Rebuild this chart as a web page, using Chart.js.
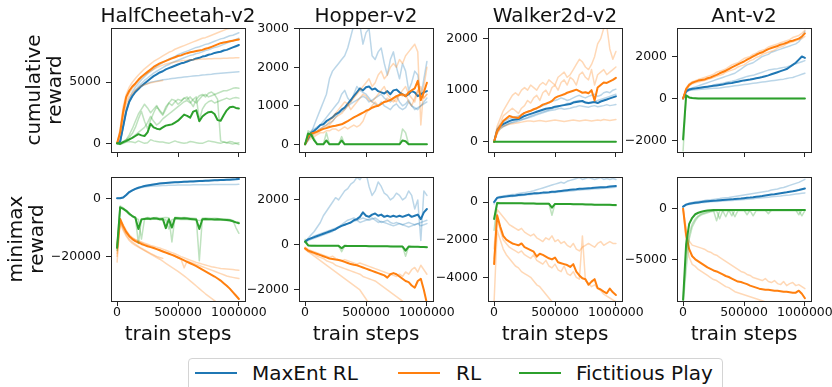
<!DOCTYPE html>
<html>
<head>
<meta charset="utf-8">
<title>MaxEnt RL vs RL vs Fictitious Play</title>
<script src="https://cdn.jsdelivr.net/npm/chart.js@4.4.1/dist/chart.umd.min.js"></script>
<style>
  html, body { margin: 0; padding: 0; background: #fff; }
  body { position: relative; width: 832px; height: 387px; overflow: hidden; font-family: 'DejaVu Sans', sans-serif; }
  canvas { position: absolute; }
  .ptitle { position: absolute; top: 5px; width: 234px; text-align: center; font-size: 20px; line-height: 20px; color: #111; white-space: nowrap; }
  #legend { position: absolute; left: 188px; top: 358px; width: 535px; height: 40px; box-sizing: border-box; border: 1px solid #d4d4d4; border-radius: 4px; background: #fff; }
  #legend .line { position: absolute; top: 13px; width: 42px; height: 2px; }
  #legend .name { position: absolute; top: 4px; font-size: 20px; line-height: 20px; color: #111; white-space: nowrap; }
</style>
</head>
<body>
<div id="legend">
  <span class="line" style="left:6px;background:#1f77b4"></span><span class="name" style="left:63px">MaxEnt RL</span>
  <span class="line" style="left:209px;background:#ff7f0e"></span><span class="name" style="left:267px">RL</span>
  <span class="line" style="left:330px;background:#2ca02c"></span><span class="name" style="left:387px">Fictitious Play</span>
</div>
<script>
// training steps shared by every curve
const STEPS = [0, 25000, 50000, 75000, 100000, 125000, 150000, 175000, 200000, 225000, 250000,
  275000, 300000, 325000, 350000, 375000, 400000, 425000, 450000, 475000, 500000,
  525000, 550000, 575000, 600000, 625000, 650000, 675000, 700000, 725000, 750000,
  775000, 800000, 825000, 850000, 875000, 900000, 925000, 950000, 975000, 1000000]
const X_TICKS = [0, 500000, 1000000]

// ---- HalfCheetah, cumulative reward
const hcCumMaxEnt = [0,150,1400,2600,3400,3850,4200,4450,4700,4900,5100,
  5300,5500,5650,5800,5900,6050,6150,6250,6350,6450,
  6550,6600,6700,6800,6850,6950,7000,7100,7150,7250,
  7300,7400,7450,7500,7600,7650,7750,7850,7950,8050]
const hcCumMaxEntRuns = [
  [0,200,1500,2700,3400,3900,4200,4450,4650,4800,4900,
   5000,5050,5100,5150,5200,5230,5260,5300,5330,5360,
   5390,5420,5450,5480,5510,5540,5560,5590,5610,5640,
   5660,5690,5710,5730,5750,5770,5790,5810,5830,5850],
  [0,100,1300,2700,3600,4200,4600,4900,5200,5450,5700,
   5900,6100,6300,6450,6600,6750,6900,7000,7100,7250,
   7350,7450,7550,7650,7750,7850,7900,8000,8100,8150,
   8250,8350,8450,8550,8600,8700,8800,8850,8950,9050],
  [0,120,1300,2600,3450,3950,4350,4650,4900,5150,5350,
   5550,5750,5900,6050,6200,6350,6450,6600,6700,6800,
   6900,7000,7100,7200,7250,7350,7400,7500,7600,7650,
   7750,7850,7900,8000,8100,8200,8300,8400,8500,8600]
]
const hcCumRL = [0,900,2600,3800,4300,4650,4900,5200,5450,5650,5850,
  6050,6250,6400,6550,6650,6750,6850,6950,7050,7150,
  7200,7300,7380,7450,7500,7550,7600,7650,7740,7800,
  7900,8000,8100,8200,8250,8300,8350,8400,8450,8500]
const hcCumRLRuns = [
  [0,1200,3000,4000,4600,5000,5300,5600,5850,6100,6300,
   6500,6700,6850,7000,7150,7300,7450,7550,7700,7800,
   7900,8000,8100,8200,8300,8400,8500,8600,8650,8750,
   8850,8950,9050,9150,9250,9350,9400,9450,9500,9550],
  [0,800,2400,3500,4100,4500,4800,5100,5350,5550,5750,
   5900,6050,6200,6300,6400,6500,6550,6600,6650,6700,
   6750,6780,6800,6830,6850,6870,6880,6900,6910,6920,
   6930,6940,6950,6950,6960,6970,6980,6990,7000,7000],
  [0,700,2200,3200,3800,4100,4350,4550,4700,4800,4880,
   4950,5000,5050,5100,5150,null,null,null,null,null,
   null,null,null,null,null,null,null,null,null,null,
   null,null,null,null,null,null,null,null,null,null]
]
const hcCumFP = [0,-50,100,200,330,450,600,750,650,600,900,
  1600,1300,1200,1140,1300,1450,1500,1550,1700,1850,
  2100,2350,2250,2100,2600,2700,1800,2200,2400,2550,
  2580,2400,1900,1850,2300,2700,2950,3000,2900,2850]
const hcCumFPRuns = [
  [0,-100,0,100,150,100,50,200,100,0,50,
   300,200,150,100,100,50,0,100,200,100,
   50,0,50,150,100,50,0,0,100,200,
   150,100,50,0,100,50,0,-50,0,-100],
  [0,0,100,300,700,1200,1800,2400,2800,3200,2900,
   2500,2800,3100,2600,2300,2800,3300,3600,3500,3200,
   3400,3700,3600,3800,3500,3300,3600,3900,4000,3800,
   3900,4000,3600,200,100,50,150,100,0,50],
  [0,50,150,300,500,800,1300,2000,2600,1800,1200,
   1900,2500,3000,2700,2400,3000,3300,3100,3400,3600,
   3500,3700,3800,3400,3000,3600,3900,4000,3800,4100,
   4200,4000,4100,4200,4300,4300,4400,4500,4550,4500],
  [0,0,50,150,300,500,700,900,1100,1300,1700,
   2200,1800,1500,1700,2000,2200,2400,2600,2800,3000,
   3200,3400,3500,3300,3600,3800,1900,2800,3200,3400,
   3500,3300,3400,3500,3600,3700,3600,3700,3750,3700]
]

// ---- Hopper, cumulative reward
const hopCumMaxEnt = [0,150,300,350,420,500,520,600,650,700,780,
  820,900,950,1050,1150,1250,1350,1450,1400,1480,
  1500,1420,1450,1380,1350,1320,1380,1300,1400,1420,
  1350,1300,1250,1300,1380,1350,1250,1300,1350,1380]
const hopCumMaxEntRuns = [
  [0,100,300,500,700,900,1100,1300,1700,1900,2000,
   2100,2200,2300,2500,2800,3100,3200,3100,2600,2900,
   3000,2300,2200,2400,2500,2100,1800,2200,2400,2000,
   1700,2100,1900,1400,1600,1900,1800,1200,1700,2150],
  [0,200,350,400,450,500,600,700,800,900,1000,
   1100,1300,1400,1200,1100,1300,1500,1400,1350,1300,
   1200,1100,1050,1000,1100,1000,950,900,1000,1050,
   950,900,950,1100,1000,950,900,1000,1100,1200],
  [0,150,200,300,350,400,450,500,550,600,700,
   800,850,900,1000,1050,1100,1150,1200,1250,1200,
   1100,1150,1200,1250,1300,1200,1150,1100,1200,1250,
   1100,1000,1050,1150,1000,900,950,1000,1050,1100]
]
const hopCumRL = [0,200,280,300,330,370,400,420,450,470,480,
  500,520,560,600,650,700,740,780,820,870,
  900,950,980,1000,1050,1100,1120,1150,1200,1250,
  1280,1300,1250,1350,1400,1450,1650,1150,1350,1600]
const hopCumRLRuns = [
  [0,150,200,250,300,350,400,450,500,600,700,
   750,800,900,1000,1100,1200,1300,1400,1500,1600,
   1700,1500,1600,1800,1900,1700,1800,2000,2100,2000,
   2200,2100,2300,2400,2500,2600,2400,500,1500,2000],
  [0,100,150,200,250,300,300,350,350,400,400,
   350,400,450,400,450,500,450,500,600,800,
   900,1000,1100,1000,1050,1100,1200,1150,1100,1200,
   1300,1250,1300,1100,1000,1200,1400,1300,1200,1300],
  [0,200,250,300,350,400,450,500,600,700,800,
   900,1000,1100,1050,900,1000,1100,1200,1300,1250,
   1150,1100,1200,1300,1400,1500,1300,1200,1150,1100,
   1300,1400,1500,1300,1200,1100,1400,1500,1200,1300]
]
const hopCumFP = [0,280,250,100,0,0,0,100,0,0,0,
  0,100,0,0,0,0,0,0,0,0,
  0,0,0,0,0,0,0,0,0,0,
  0,100,80,0,0,0,0,0,0,0]
const hopCumFPRuns = [
  [0,350,300,150,0,0,0,300,0,0,0,
   0,200,0,0,0,0,0,0,0,0,
   0,0,0,0,0,0,0,0,0,0,
   0,400,300,0,0,0,0,0,0,0]
]

// ---- Walker2d, cumulative reward
const wlkCumMaxEnt = [0,220,300,340,370,400,420,430,440,470,500,
  520,540,560,580,600,620,640,650,660,680,
  690,700,710,720,730,760,770,780,790,760,
  750,760,770,750,780,800,820,840,860,880]
const wlkCumMaxEntRuns = [
  [0,250,330,380,420,450,460,480,500,520,560,
   580,600,620,650,680,700,720,760,790,800,
   820,850,830,800,820,850,880,900,870,850,
   880,900,920,880,900,950,970,950,1000,1020],
  [0,200,280,300,330,350,370,380,400,420,440,
   460,480,500,520,540,560,580,600,610,620,
   640,650,630,640,650,670,680,700,690,680,
   670,690,700,680,690,700,720,700,710,720],
  [0,180,250,290,320,360,380,400,420,430,450,
   470,500,520,540,560,580,600,620,640,660,
   680,700,720,740,750,770,790,800,780,760,
   740,760,780,800,820,840,860,880,900,920]
]
const wlkCumRL = [0,200,300,400,450,500,480,470,460,520,560,
  580,600,630,650,680,720,740,760,790,850,
  880,900,920,950,970,990,1010,980,950,960,
  940,1000,800,1050,1100,1150,1140,1170,1200,1240]
const wlkCumRLRuns = [
  [0,300,450,600,700,800,900,950,900,1000,1050,
   1000,1100,1050,1000,1100,1150,1100,1200,1150,1100,
   1250,1300,1350,1250,1300,1400,1500,1600,1550,1450,
   1400,1500,1650,1900,2000,2200,2250,1800,1600,1750],
  [0,150,250,300,320,340,350,360,370,380,390,
   400,400,390,400,410,400,390,400,410,420,
   410,400,390,400,410,420,410,400,410,420,
   410,400,410,420,410,430,420,410,420,430],
  [0,250,350,500,550,600,650,600,550,650,700,
   800,750,850,900,800,950,1000,900,1050,1100,
   1000,1150,1200,1100,1250,1200,1100,1300,1350,1250,
   1200,1400,1100,1300,1350,1400,1300,1350,1400,1450]
]
const wlkCumFP = [0,0,0,0,0,0,0,0,0,0,0,
  0,0,0,0,0,0,0,0,0,0,
  0,0,0,0,0,0,0,0,0,0,
  0,0,0,0,0,0,0,0,0,0]
const wlkCumFPRuns = []

// ---- Ant, cumulative reward
const antCumMaxEnt = [0,350,430,460,480,500,520,540,560,580,600,
  620,640,660,700,720,740,770,800,830,860,
  880,900,930,960,990,1020,1060,1100,1150,1200,
  1250,1300,1350,1400,1500,1600,1700,1850,2000,1930]
const antCumMaxEntRuns = [
  [0,300,450,500,550,600,650,700,750,800,850,
   900,950,1000,1050,1100,1150,1200,1300,1400,1500,
   1600,1650,1700,1800,1900,2000,2050,2100,2200,2250,
   2300,2350,2400,2450,2500,2550,2600,2700,2900,3200],
  [0,300,380,400,420,430,440,450,460,470,480,
   490,500,520,540,560,580,600,620,640,660,
   680,700,720,740,760,780,800,820,840,860,
   880,900,920,950,980,1000,1050,1100,1150,1200],
  [0,320,400,430,460,480,500,520,560,600,640,
   680,700,720,760,800,820,850,900,950,1000,
   1050,1080,1100,1150,1200,1250,1300,1350,1380,1400,
   1420,1450,1480,1500,1550,1600,1650,1700,1750,1800]
]
const antCumRL = [0,450,650,750,800,850,880,900,960,1000,1060,
  1120,1200,1260,1320,1400,1480,1550,1620,1690,1760,
  1850,1920,2000,2080,2150,2200,2280,2350,2400,2450,
  2500,2560,2600,2650,2720,2750,2800,2850,2950,3100]
const antCumRLRuns = [
  [0,500,700,800,850,900,950,1000,1050,1100,1150,
   1250,1300,1350,1400,1500,1600,1650,1700,1800,1900,
   1950,2000,2100,2150,2250,2300,2350,2450,2500,2550,
   2600,2650,2700,2750,2800,2900,2950,3000,3100,3250],
  [0,400,600,700,750,780,820,850,900,950,1000,
   1050,1100,1150,1250,1300,1350,1400,1500,1550,1600,
   1700,1800,1850,1950,2000,2100,2150,2200,2250,2300,
   2400,2450,2500,2600,2650,2700,2750,2800,2850,2950]
]
const antCumFP = [-1950,150,50,20,10,0,0,0,0,0,0,
  0,0,0,0,0,0,0,0,0,0,
  0,0,0,0,0,0,0,0,0,0,
  0,0,0,0,0,0,0,0,0,0]
const antCumFPRuns = [
  [-2500,100,30,0,0,0,0,0,0,0,0,
   0,0,0,0,0,0,0,0,0,0,
   0,0,0,0,0,0,0,0,0,0,
   0,0,0,0,0,0,0,0,0,0]
]

// ---- HalfCheetah, minimax reward
const hcMmMaxEnt = [200,200,400,1300,2300,2900,3400,3800,4100,4400,4600,
  4800,4970,5100,5250,5350,5450,5550,5620,5700,5760,
  5820,5880,5930,5980,6020,6080,6130,6180,6230,6280,
  6330,6370,6420,6460,6500,6550,6600,6650,6720,6820]
const hcMmMaxEntRuns = [
  [200,200,400,1200,2200,2800,3300,3600,3900,4100,4200,
   4300,4400,4450,4500,4550,4600,4650,4680,4700,4720,
   4740,4760,4780,4800,4820,4840,4860,4870,4880,4890,
   4900,4910,4920,4930,4940,4950,4960,4970,4980,4990],
  [200,250,500,1400,2400,3000,3500,3900,4200,4500,4700,
   4900,5050,5200,5350,5450,5550,5650,5720,5800,5870,
   5930,5990,6050,6100,6150,6200,6250,6300,6350,6400,
   6450,6500,6550,6600,6650,6700,6750,6800,6850,6950]
]
const hcMmRL = [-17000,-7000,-9500,-11500,-13000,-14000,-14700,-15200,-15700,-16100,-16500,
  -16800,-17100,-17500,-17900,-18300,-18700,-19100,-19500,-19900,-20400,
  -20900,-21400,-21900,-22400,-22900,-23400,-24000,-24600,-25200,-25800,
  -26400,-27000,-27700,-28400,-29300,-30200,-31200,-32400,-33600,-34800]
const hcMmRLRuns = [
  [-19000,-8000,-10000,-12000,-13000,-13700,-14200,-14600,-15000,-15400,-15800,
   -16200,-16500,-16800,-17100,-17500,-17900,-18300,-18700,-19100,-19600,
   -20100,-20500,-20900,-21300,-21700,-22100,-22400,-22700,-23000,-23300,
   -23600,-23800,-24000,-24200,-24300,-24400,-24500,-24600,-24700,-24800],
  [-22000,-7500,-9000,-11000,-12500,-13500,-14200,-14800,-15300,-15800,-16200,
   -16600,-17000,-17400,-17800,-18200,-18600,-19000,-19500,-20000,-20500,
   -21000,-24000,-21600,-22000,-22400,-22800,-23200,-23600,-24000,-24400,
   -24800,-25200,-25600,-26000,-26400,-26800,-27100,-27300,-27500,-27700],
  [-20000,-8500,-11000,-13000,-14500,-15500,-16200,-16800,-17400,-18000,-18600,
   -19200,-19800,-20400,-21000,-21700,-22400,-23100,-23800,-24500,-25200,
   -26000,-26800,-27600,-28500,-29400,-30300,-31200,-32100,-33000,-33800,
   -34600,-35400,-36200,-37000,-38000,-39000,-40000,-41000,-42000,-43000],
  [-18000,-7500,-10500,-12500,-14000,-15000,-15800,-16500,-17200,-17800,-18400,
   -19000,-19500,-20000,-20400,-20700,null,null,null,null,null,
   null,null,null,null,null,null,null,null,null,null,
   null,null,null,null,null,null,null,null,null,null]
]
const hcMmFP = [-17000,-3000,-3500,-4200,-5200,-6000,-6600,-10500,-7200,-7000,-6900,
  -7000,-6800,-6900,-7100,-7000,-10200,-7100,-10000,-6700,-6800,
  -6900,-6800,-6900,-7000,-7100,-7200,-10500,-7100,-7000,-7100,
  -7100,-7200,-7100,-7200,-7300,-7400,-7500,-7800,-8200,-8500]
const hcMmFPRuns = [
  [-16000,-2500,-3200,-4000,-5000,-6000,-6500,-15500,-7000,-6800,-6500,
   -6700,-6600,-6500,-6800,-6600,-6500,-6600,-15000,-6400,-6500,
   -6600,-6500,-6600,-6700,-6800,-6900,-21500,-6800,-6700,-6800,
   -6900,-6800,-6900,-7000,-7100,-7000,-7200,-7500,-10000,-12000],
  [-18000,-3000,-3300,-4500,-5500,-6200,-6800,-7200,-14000,-7200,-7000,
   -7200,-7000,-7100,-7300,-7200,-7300,-10500,-7300,-7000,-7100,
   -7200,-7100,-7200,-7300,-7300,-7400,-7600,-7300,-7200,-7300,
   -7200,-7400,-7300,-7400,-7500,-7600,-7700,-7800,-8000,-8200]
]

// ---- Hopper, minimax reward
const hopMmMaxEnt = [150,250,300,350,400,450,500,550,600,650,700,
  780,850,900,950,1000,1100,1150,1250,1450,1300,
  1250,1350,1400,1300,1350,1250,1300,1250,1300,1250,
  1300,1250,1300,1350,1250,1300,1350,1150,1450,1600]
const hopMmMaxEntRuns = [
  [150,300,450,600,800,1000,1300,1500,1700,1900,2100,
   2000,2200,2400,2500,2700,2800,3000,2900,3100,3200,
   2600,2200,2400,2800,2600,2300,2200,2000,2100,2300,
   2200,2000,2100,2400,2200,1600,2000,200,2400,2200],
  [150,250,300,400,450,500,550,600,650,700,750,
   800,850,900,950,1000,1050,1100,1150,1200,1150,
   1100,1150,1200,1100,1000,1050,1100,1000,950,1000,
   950,900,950,1000,950,900,950,1000,1050,1100],
  [150,200,250,300,350,400,450,500,550,600,700,
   800,900,1000,1100,1150,1200,1100,1000,1050,1100,
   1150,1200,1100,1000,1050,1000,950,900,850,900,
   950,900,850,800,850,900,950,850,900,950]
]
const hopMmRL = [-150,-250,-300,-350,-400,-450,-500,-550,-600,-620,-650,
  -670,-700,-750,-800,-850,-880,-900,-950,-1000,-1050,
  -1100,-1150,-1200,-1250,-1300,-1350,-1450,-1300,-1250,-1300,
  -1400,-1500,-1600,-1650,-1800,-1900,-1600,-1500,-2000,-2600]
const hopMmRLRuns = [
  [-150,-300,-400,-500,-600,-700,-800,-900,-1000,-1100,-1200,
   -1300,-1400,-1500,-1600,-1700,-1800,-1900,-2000,-2200,-2400,
   -2600,-2800,-3000,-3200,-3400,-3600,-3800,-4000,-4200,-4400,
   -4600,-4800,-5000,-5200,-5400,-5600,-5800,-6000,-6200,-6400],
  [-100,-200,-250,-300,-350,-400,-450,-500,-550,-500,-600,
   -650,-700,-650,-700,-750,-800,-850,-800,-850,-900,
   -950,-1000,-1050,-1100,-1150,-1200,-1250,-1300,-1350,-1400,
   -1300,-1400,-1200,-1300,-1100,-1000,-1200,-900,-1100,-1300],
  [-200,-300,-350,-400,-500,-550,-600,-700,-750,-800,-900,
   -950,-1000,-1050,-1100,-1150,-1200,-1250,-1300,-1400,-1450,
   -1500,-1550,-1600,-1700,-1800,-1900,-2000,-2100,-2200,-2300,
   -2400,-2500,-2600,-2700,-2800,-2900,-3000,-3100,-3200,-3300]
]
const hopMmFP = [150,-20,-30,-30,-30,-30,-30,-40,-40,-40,-40,
  -40,-150,-40,-50,-50,-50,-50,-50,-50,-50,
  -60,-60,-60,-60,-60,-60,-60,-70,-70,-70,
  -70,-70,-250,-70,-80,-80,-80,-90,-90,-100]
const hopMmFPRuns = [
  [250,0,-20,-20,-30,-30,-30,-30,-40,-40,-40,
   -40,-300,-40,-40,-50,-50,-50,-50,-50,-50,
   -50,-60,-60,-60,-60,-60,-60,-60,-70,-70,
   -70,-70,-500,-70,-70,-80,-80,-80,-90,-90]
]

// ---- Walker2d, minimax reward
const wlkMmMaxEnt = [0,220,260,280,300,320,340,350,370,390,400,
  420,440,460,470,480,500,510,520,540,550,
  570,590,610,630,650,670,680,700,710,720,
  730,740,760,770,780,790,800,820,840,850]
const wlkMmMaxEntRuns = [
  [0,250,300,320,350,380,400,420,450,480,500,
   530,560,600,650,700,750,800,850,900,950,
   1000,1050,1000,1100,1150,1200,1250,1300,1200,1250,
   1300,1250,1200,1250,1300,1200,1250,1200,1250,1200],
  [-100,200,230,250,270,290,300,320,330,350,360,
   380,400,410,420,440,450,470,480,500,510,
   530,540,560,570,590,600,620,630,650,660,
   670,680,700,710,720,730,740,760,770,780]
]
const wlkMmRL = [-3300,-700,-1300,-1800,-2000,-2100,-2200,-2250,-2300,-2200,-2400,
  -2480,-2560,-2640,-2900,-2750,-2810,-2900,-2990,-3050,-2950,
  -3200,-3250,-3300,-3350,-3450,-3300,-3700,-3900,-4050,-4100,
  -4400,-4230,-4100,-4580,-4650,-4760,-4850,-4600,-4800,-4940]
const wlkMmRLRuns = [
  [-2500,-400,-600,-800,-1000,-1200,-1300,-1400,-1500,-1400,-1600,
   -1700,-1800,-1700,-1900,-2000,-2100,-1900,-2000,-1800,-2100,
   -2000,-2200,-2100,-2300,-2400,-2200,-2500,-2600,-2400,-2300,
   -2200,-2300,-2400,-2200,-2100,-2300,-2200,-2100,-2200,-2200],
  [-5300,-1500,-2000,-2500,-2800,-3000,-3200,-3400,-3500,-3700,-3800,
   -3900,-4000,-4200,-4400,-4500,-4700,-4900,-5100,-5300,-5500,
   -5600,-5700,-5500,-5400,-5600,-5800,-6000,-6000,-6000,-6000,
   -6000,-6000,-6000,-6000,-6000,-6000,-6000,-6000,-6000,-6000],
  [-3000,-800,-1500,-2000,-2200,-2400,-2500,-2600,-2700,-2600,-2800,
   -2900,-3000,-2800,-3100,-3200,-3300,-3100,-3400,-3500,-3300,
   -3600,-3700,-3400,-3800,-3900,-3700,-4000,-4100,-1800,-4200,
   -4300,-4500,-4400,-4600,-4700,-4900,-5000,-5100,-5200,-5300]
]
const wlkMmFP = [-900,-50,-60,-60,-60,-60,-70,-70,-70,-70,-80,
  -80,-80,-80,-90,-90,-90,-90,-90,-300,-100,
  -100,-100,-110,-110,-110,-120,-120,-120,-120,-130,
  -130,-130,-140,-140,-140,-150,-150,-150,-160,-160]
const wlkMmFPRuns = [
  [-1500,-30,-40,-40,-50,-50,-50,-60,-60,-60,-70,
   -70,-70,-70,-80,-80,-80,-80,-80,-700,-90,
   -90,-100,-100,-100,-110,-110,-110,-120,-120,-120,
   -130,-130,-140,-140,-150,-150,-160,-170,-180,-200]
]

// ---- Ant, minimax reward
const antMmMaxEnt = [200,400,480,540,580,620,660,700,740,760,780,
  800,830,860,880,900,920,950,980,1000,1040,
  1080,1100,1130,1170,1210,1250,1300,1350,1390,1430,
  1480,1530,1580,1620,1670,1720,1780,1840,1920,2000]
const antMmMaxEntRuns = [
  [200,450,550,620,680,720,760,800,850,880,920,
   960,1000,1050,1080,1100,1150,1200,1250,1300,1350,
   1400,1450,1500,1550,1600,1650,1700,1750,1850,1900,
   1950,2050,2100,2200,2300,2400,2500,2600,2750,2900],
  [200,350,420,480,520,560,600,620,650,680,700,
   720,740,760,780,800,820,840,860,880,900,
   930,960,990,1020,1050,1080,1110,1140,1170,1200,
   1230,1260,1300,1330,1360,1400,1440,1480,1520,1560]
]
const antMmRL = [0,-2600,-4000,-4700,-5000,-5200,-5400,-5600,-5800,-5950,-6100,
  -6200,-6350,-6500,-6650,-6750,-6900,-7050,-7200,-7250,-7350,
  -7450,-7600,-7700,-7800,-7900,-7950,-8000,-8000,-8050,-8100,
  -8100,-8150,-8200,-8200,-8250,-8300,-8300,-8100,-8400,-8850]
const antMmRLRuns = [
  [0,-2000,-3200,-3600,-3700,-3800,-3900,-4000,-4200,-4300,-4500,
   -4600,-4800,-5000,-5200,-5400,-5600,-5800,-6000,-6200,-6300,
   -6500,-6600,-6800,-6900,-7000,-7100,-6900,-7200,-7300,-7100,
   -7400,-7500,-7200,-7600,-7400,-7300,-7600,-7500,-7700,-7900],
  [0,-3200,-4800,-5500,-5700,-6000,-6200,-6400,-6600,-6800,-7000,
   -7100,-7300,-7500,-7700,-7800,-8000,-8200,-8300,-8400,-8500,
   -8600,-8700,-8800,-8900,-9000,-9100,-9200,-9300,-9300,-9400,
   -9400,-9500,-9500,-9500,-9600,-9600,-9700,-9700,-9700,-9800]
]
const antMmFP = [-9000,-3500,-1500,-900,-550,-400,-300,-230,-180,-150,-130,
  -130,-130,-130,-130,-130,-130,-130,-130,-130,-130,
  -130,-130,-130,-130,-130,-130,-130,-130,-130,-130,
  -130,-130,-130,-130,-130,-130,-130,-130,-130,-130]
const antMmFPRuns = [
  [-9000,-4500,-2500,-1500,-1000,-700,-500,-400,-300,-250,-200,
   -1200,-200,-200,-800,-150,-700,-150,-150,-150,-150,
   -600,-150,-150,-150,-150,-150,-150,-500,-150,-150,
   -150,-150,-150,-150,-150,-150,-150,-600,-150,-150],
  [-9500,-6000,-3000,-1800,-1200,-800,-600,-500,-400,-300,-250,
   -200,-1000,-200,-200,-200,-200,-800,-200,-200,-200,
   -200,-200,-700,-200,-200,-200,-200,-200,-200,-200,
   -200,-200,-200,-200,-200,-200,-200,-200,-700,-200]
]

const PANELS = [
  { row: 0, col: 0, title: 'HalfCheetah-v2', yMin: -710, yMax: 9440, yTicks: [0, 5000],
    maxent: hcCumMaxEnt, maxentRuns: hcCumMaxEntRuns, rl: hcCumRL, rlRuns: hcCumRLRuns, fp: hcCumFP, fpRuns: hcCumFPRuns },
  { row: 0, col: 1, title: 'Hopper-v2', yMin: -200, yMax: 3020, yTicks: [0, 1000, 2000, 3000],
    maxent: hopCumMaxEnt, maxentRuns: hopCumMaxEntRuns, rl: hopCumRL, rlRuns: hopCumRLRuns, fp: hopCumFP, fpRuns: hopCumFPRuns },
  { row: 0, col: 2, title: 'Walker2d-v2', yMin: -200, yMax: 2207, yTicks: [0, 1000, 2000],
    maxent: wlkCumMaxEnt, maxentRuns: wlkCumMaxEntRuns, rl: wlkCumRL, rlRuns: wlkCumRLRuns, fp: wlkCumFP, fpRuns: wlkCumFPRuns },
  { row: 0, col: 3, title: 'Ant-v2', yMin: -2550, yMax: 3355, yTicks: [-2000, 0, 2000],
    maxent: antCumMaxEnt, maxentRuns: antCumMaxEntRuns, rl: antCumRL, rlRuns: antCumRLRuns, fp: antCumFP, fpRuns: antCumFPRuns },
  { row: 1, col: 0, yMin: -35500, yMax: 7540, yTicks: [-20000, 0],
    maxent: hcMmMaxEnt, maxentRuns: hcMmMaxEntRuns, rl: hcMmRL, rlRuns: hcMmRLRuns, fp: hcMmFP, fpRuns: hcMmFPRuns },
  { row: 1, col: 1, yMin: -2490, yMax: 3020, yTicks: [-2000, 0, 2000],
    maxent: hopMmMaxEnt, maxentRuns: hopMmMaxEntRuns, rl: hopMmRL, rlRuns: hopMmRLRuns, fp: hopMmFP, fpRuns: hopMmFPRuns },
  { row: 1, col: 2, yMin: -5260, yMax: 1330, yTicks: [-4000, -2000, 0],
    maxent: wlkMmMaxEnt, maxentRuns: wlkMmMaxEntRuns, rl: wlkMmRL, rlRuns: wlkMmRLRuns, fp: wlkMmFP, fpRuns: wlkMmFPRuns },
  { row: 1, col: 3, yMin: -9120, yMax: 3130, yTicks: [-5000, 0],
    maxent: antMmMaxEnt, maxentRuns: antMmMaxEntRuns, rl: antMmRL, rlRuns: antMmRLRuns, fp: antMmFP, fpRuns: antMmFPRuns }
]

const COLORS = { maxent: '#1f77b4', rl: '#ff7f0e', fp: '#2ca02c' }
const FAINT = { maxent: 'rgba(31,119,180,0.3)', rl: 'rgba(255,127,14,0.3)', fp: 'rgba(44,160,44,0.3)' }
const PLOT_LEFT = [111, 299, 488, 677]
const PLOT_W = 134

Chart.defaults.font.family = "'DejaVu Sans', sans-serif"
Chart.defaults.color = '#111'

const tickFmt = v => v < 0 ? '\u2212' + Math.abs(v) : String(v)

// matplotlib style box round the plot area
const frame = {
  id: 'frame',
  afterDraw(chart) {
    const { ctx, chartArea: a } = chart
    ctx.save()
    ctx.strokeStyle = '#262626'
    ctx.lineWidth = 1
    ctx.strokeRect(a.left + 0.5, a.top + 0.5, a.right - a.left, a.bottom - a.top)
    ctx.restore()
  }
}

function line(values, color, width) {
  return {
    data: values.map((v, i) => ({ x: STEPS[i], y: v })),
    borderColor: color,
    borderWidth: width,
    pointRadius: 0,
    fill: false,
    tension: 0,
    borderJoinStyle: 'round',
    borderCapStyle: 'round'
  }
}

function drawPanel(p) {
  const top = p.row === 0
  const yw = p.col === 0 ? 111 : 56
  const canvas = document.createElement('canvas')
  canvas.width = yw + PLOT_W + 30
  canvas.height = top ? 160 : 178
  canvas.style.left = (PLOT_LEFT[p.col] - yw) + 'px'
  canvas.style.top = (top ? 0 : 167) + 'px'
  document.body.appendChild(canvas)

  if (top) {
    const t = document.createElement('div')
    t.className = 'ptitle'
    t.textContent = p.title
    t.style.left = (PLOT_LEFT[p.col] + PLOT_W / 2 - 117) + 'px'
    document.body.appendChild(t)
  }

  // bottom to top: blue runs, blue mean, orange runs, orange mean, green runs, green mean
  const sets = []
  for (const key of ['maxent', 'rl', 'fp']) {
    p[key + 'Runs'].forEach(r => sets.push(line(r, FAINT[key], 1.5)))
    sets.push(line(p[key], COLORS[key], 2))
  }
  sets.reverse()

  const grid = { drawOnChartArea: false, drawTicks: true, tickLength: 5, tickColor: '#262626', tickWidth: 1 }

  new Chart(canvas, {
    type: 'line',
    data: { datasets: sets },
    options: {
      responsive: false,
      animation: false,
      devicePixelRatio: 1,
      events: [],
      layout: { padding: { left: 0, right: 30, top: top ? 28 : 10, bottom: 0 } },
      plugins: { legend: { display: false }, tooltip: { enabled: false } },
      scales: {
        x: {
          type: 'linear',
          min: -50000,
          max: 1050000,
          afterBuildTicks: s => { s.ticks = X_TICKS.map(v => ({ value: v })) },
          afterFit: s => { s.height = top ? 8 : 44; s.paddingLeft = 0; s.paddingRight = 0 },
          ticks: {
            callback: v => top ? '' : String(v),
            font: { size: 12.5, lineHeight: 1 },
            padding: 0,
            autoSkip: false,
            maxRotation: 0,
            minRotation: 0
          },
          grid: grid,
          border: { display: false },
          title: {
            display: !top,
            text: 'train steps',
            font: { size: 20, lineHeight: 1 },
            padding: { top: 0, bottom: 0 }
          }
        },
        y: {
          type: 'linear',
          min: p.yMin,
          max: p.yMax,
          afterBuildTicks: s => { s.ticks = p.yTicks.map(v => ({ value: v })) },
          afterFit: s => { s.width = yw; s.paddingTop = 0; s.paddingBottom = 0 },
          ticks: { callback: tickFmt, font: { size: 12.5 }, padding: 5, autoSkip: false },
          grid: grid,
          border: { display: false },
          title: {
            display: p.col === 0,
            text: top ? ['cumulative', 'reward'] : ['minimax', 'reward'],
            font: { size: 20, lineHeight: '21px' },
            padding: { top: top ? 24.6 : 5.9, bottom: 0 }
          }
        }
      }
    },
    plugins: [frame]
  })
}

PANELS.forEach(drawPanel)
</script>
</body>
</html>
